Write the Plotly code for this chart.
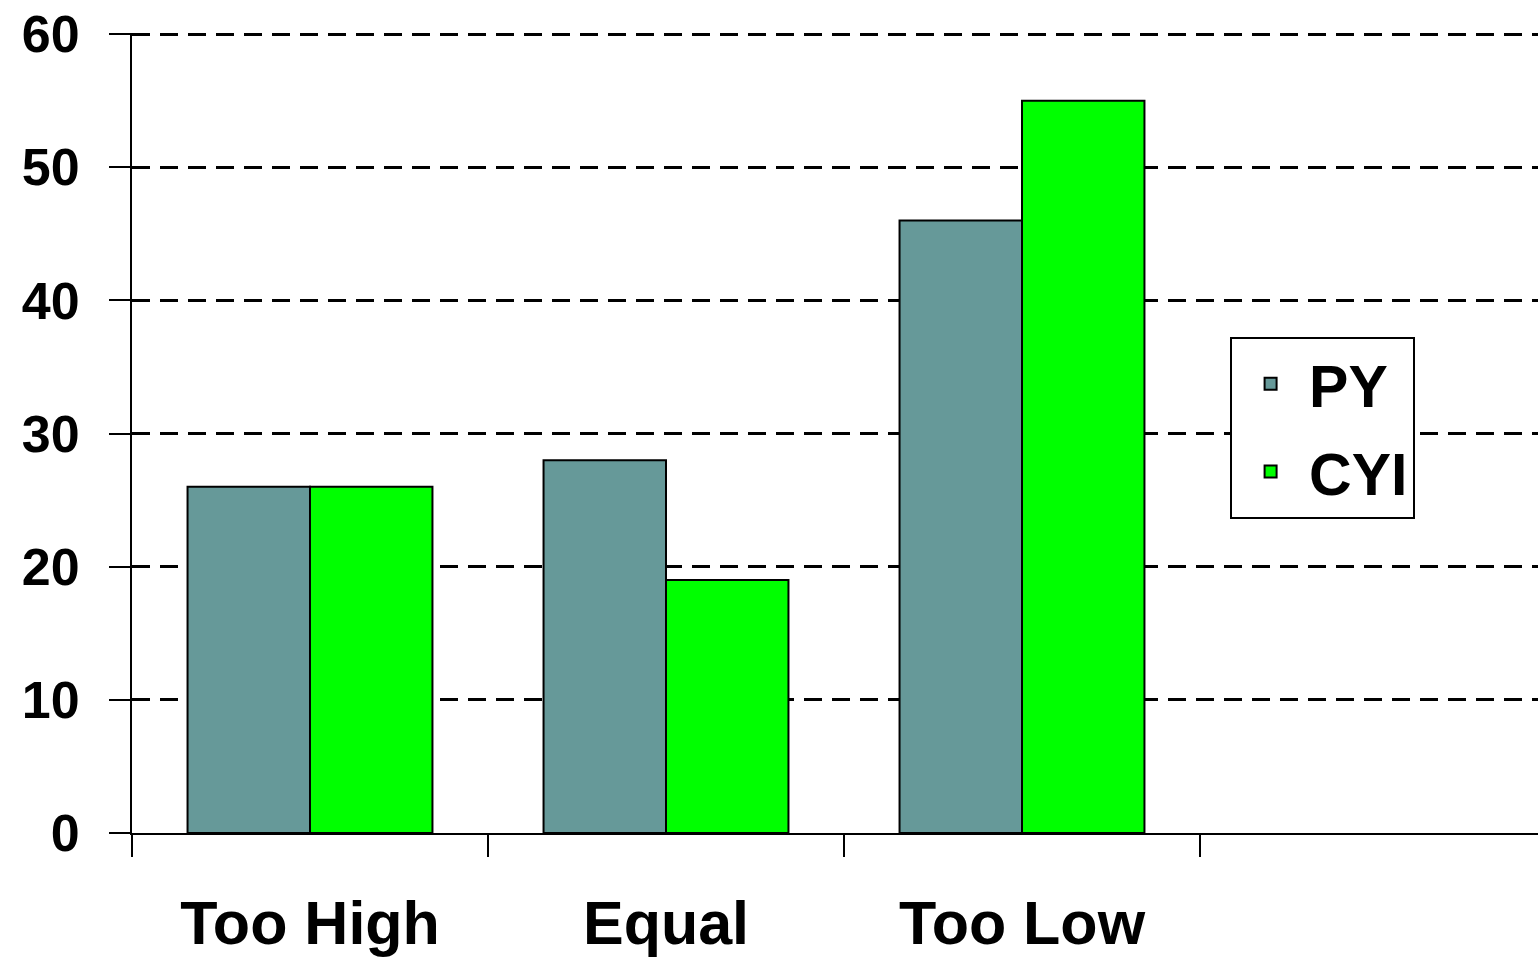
import plotly.graph_objects as go

categories = ["Too High", "Equal", "Too Low"]
py_values = [26, 28, 46]
cyi_values = [26, 19, 55]
series_names = ["PY", "CYI"]
y_ticks = [0, 10, 20, 30, 40, 50, 60]

FONT = "Liberation Sans, Arial, sans-serif"
xpos = list(range(len(categories)))

fig = go.Figure()
fig.add_trace(go.Bar(x=xpos, y=py_values, name=series_names[0], legendgroup="a",
                     marker=dict(color="#669999", line=dict(color="black", width=2))))
fig.add_trace(go.Bar(x=xpos, y=cyi_values, name=series_names[1], legendgroup="b",
                     marker=dict(color="#00FF00", line=dict(color="black", width=2))))

fig.update_layout(
    width=1538, height=957,
    margin=dict(l=132, r=0, t=33, b=124, autoexpand=False),
    paper_bgcolor="white", plot_bgcolor="white",
    barmode="group", bargap=0.312, bargroupgap=0,
    font=dict(family=FONT, color="black", weight="bold"),
    showlegend=True,
    legend=dict(x=0.781, y=0.62, xanchor="left", yanchor="top",
                bgcolor="white", bordercolor="black", borderwidth=2,
                font=dict(size=59, family=FONT, weight="bold"),
                tracegroupgap=8, itemwidth=67),
)
fig.update_xaxes(
    range=[-0.5, -0.5 + 1406 / 356], automargin=False,
    tickmode="array", tickvals=xpos, ticktext=categories,
    ticks="", showgrid=False, zeroline=False,
    showline=True, linecolor="black", linewidth=2,
    tickfont=dict(size=61, family=FONT, weight="bold"),
    ticklabelstandoff=36, ticklabeloverflow="allow",
    minor=dict(tickmode="array", tickvals=[-0.5, 0.5, 1.5, 2.5], ticks="outside",
               ticklen=22, tickwidth=2, tickcolor="black", showgrid=False),
)
fig.update_yaxes(
    range=[0, 60.08], automargin=False, tickmode="array", tickvals=y_ticks,
    ticks="outside", ticklen=21, tickwidth=2, tickcolor="black",
    showgrid=True, gridcolor="black", gridwidth=3, griddash="18px,10px",
    zeroline=False, showline=True, linecolor="black", linewidth=2,
    tickfont=dict(size=52, family=FONT, weight="bold"),
    ticklabelstandoff=19, ticklabeloverflow="allow",
)

fig.write_html("out.html", config={"displayModeBar": False},
               post_script="document.body.style.margin='0';")
